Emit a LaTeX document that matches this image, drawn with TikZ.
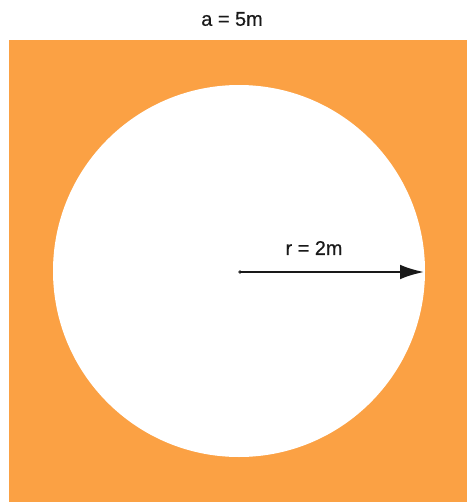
\documentclass[tikz,border=0pt]{standalone}
\usepackage{fontspec}
\setmainfont{Liberation Sans}
\newfontfamily\medfont{Liberation Sans}[FakeBold=0.5]
\usetikzlibrary{arrows.meta}
\definecolor{sqorange}{RGB}{251,161,68}
\tikzset{
  lbl/.style={font=\medfont\fontsize{17}{20}\selectfont, text=black!90},
}
\begin{document}
\begin{tikzpicture}[x=0.03cm,y=-0.03cm]
        \useasboundingbox (0,0) rectangle (467,504);
		\fill[sqorange] (9,40) rectangle (467,502);
		\fill[white] (239,271) circle (186);

		\coordinate (centre) at (240,272);
		\coordinate (rim) at (424,272);
		\fill[black!80] (centre) circle (1.8);
		\draw[line width=1.8pt,black!90,-{Latex[length=0.72cm,width=0.44cm]}] (centre) -- (rim);

		\node[lbl] (side) at (232,19) {a = 5m};
		\node[lbl] (radius) at (314,248) {r = 2m};
\end{tikzpicture}
\end{document}
